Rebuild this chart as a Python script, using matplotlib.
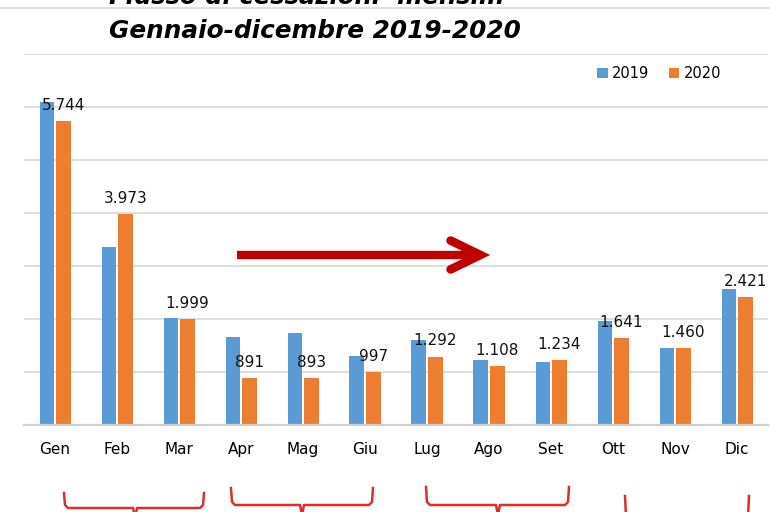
import matplotlib
matplotlib.use('Agg')
import matplotlib.pyplot as plt
import numpy as np
from matplotlib.lines import Line2D

# flusso di cessazioni mensili 2019 vs 2020
months = ['Gen', 'Feb', 'Mar', 'Apr', 'Mag', 'Giu', 'Lug', 'Ago', 'Set', 'Ott', 'Nov', 'Dic']
v2019 = [6100, 3350, 2010, 1660, 1740, 1310, 1600, 1225, 1195, 1960, 1460, 2566]
v2020 = [5744, 3973, 1999, 891, 893, 997, 1292, 1108, 1234, 1641, 1460, 2421]
series_names = ['2019', '2020']
title_lines = ['Flusso di cessazioni  mensili:', 'Gennaio-dicembre 2019-2020']

blue = '#5B9BD5'
orange = '#ED7D31'
red = '#C00000'
grid_col = '#D9D9D9'

W, H = 770, 512
fig = plt.figure(figsize=(W / 100, H / 100), dpi=100)
ax = fig.add_axes([24 / W, (H - 425) / H, 744 / W, 371 / H])

x = np.arange(len(months))
w = 0.226
off = 0.137
b1 = ax.bar(x - off, v2019, w, color=blue, label=series_names[0], zorder=2)
b2 = ax.bar(x + off, v2020, w, color=orange, label=series_names[1], zorder=2)

for xi, v in zip(x, v2020):
    ax.annotate(format(v, ',').replace(',', '.'), xy=(xi + off, v), xytext=(0, 11.2),
                textcoords='offset points', ha='center', va='center',
                fontsize=11, color='#111111', zorder=4)

ax.set_xlim(-0.5, 11.5)
ax.set_ylim(0, 7000)
ax.set_yticks(np.arange(0, 7001, 1000))
ax.set_yticklabels([])
ax.yaxis.grid(True, color=grid_col, lw=1.2, zorder=0)
ax.set_axisbelow(True)
ax.tick_params(axis='y', length=0)
ax.set_xticks(x)
ax.set_xticklabels(months, fontsize=11)
ax.tick_params(axis='x', length=0, pad=12)
for s in ['top', 'right', 'left']:
    ax.spines[s].set_visible(False)
ax.spines['bottom'].set_color('#D0D0D0')
ax.spines['bottom'].set_linewidth(1.6)

# arrow
ay = 3208
ax.plot([2.94, 6.82], [ay, ay], color=red, lw=6, solid_capstyle='butt', zorder=3)
ax.plot([6.38, 6.86, 6.38], [3480, ay, 2935], color=red, lw=6.2,
        solid_capstyle='round', solid_joinstyle='miter', zorder=3)

leg = fig.legend(handles=[b1, b2], loc='upper left', bbox_to_anchor=(597 / W, (H - 66) / H),
                 ncol=2, frameon=False, fontsize=10.5, handlelength=0.75, handleheight=0.75,
                 handletextpad=0.3, columnspacing=1.3, borderpad=0, borderaxespad=0)

# title (first line cut by the top edge)
fig.text(307 / W, (H - 4.5) / H, title_lines[0], ha='center', va='baseline',
         fontsize=17.5, fontweight='bold', style='italic')
fig.text(315 / W, (H - 37.5) / H, title_lines[1], ha='center', va='baseline',
         fontsize=17.8, fontweight='bold', style='italic')
fig.add_artist(Line2D([0, 1], [(H - 7.5) / H, (H - 7.5) / H], color=grid_col, lw=1.2))

# red braces under the quarters
braces = [(64, 204, 493, 508, 135), (231, 373, 488, 505, 302),
          (426, 569, 487, 505, 498), (625, 749, 496, 520, 687)]
for x0, x1, yt, yb, xc in braces:
    px = [x0, x0 + 1, x0 + 4, xc - 2, xc, xc + 2, x1 - 4, x1 - 1, x1]
    py = [yt, yb - 3, yb, yb, yb + 10, yb, yb, yb - 3, yt]
    fig.add_artist(Line2D([p / W for p in px], [(H - p) / H for p in py],
                          color='#D9302F', lw=1.8, solid_joinstyle='round'))

fig.savefig('out.png', dpi=100)
